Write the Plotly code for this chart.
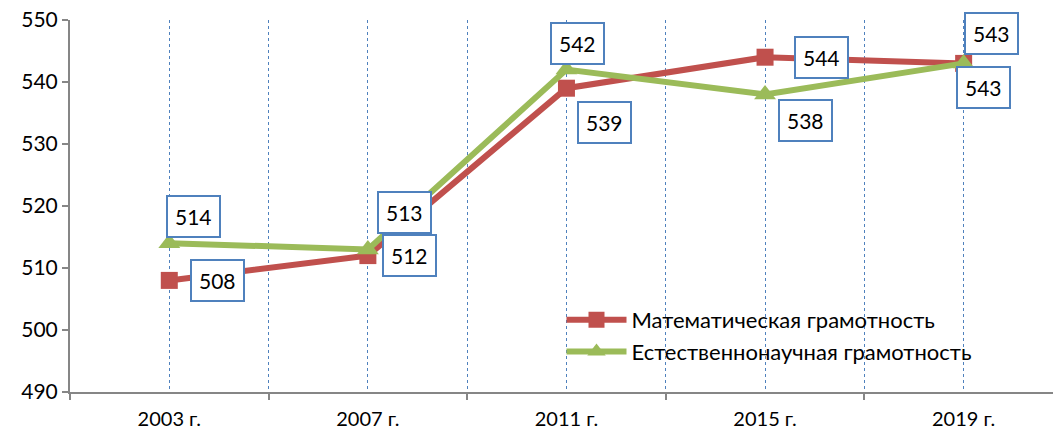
import plotly.graph_objects as go

# Survey years and scores
years = ["2003 г.", "2007 г.", "2011 г.", "2015 г.", "2019 г."]
math_scores = [508, 512, 539, 544, 543]
science_scores = [514, 513, 542, 538, 543]
math_name = "Математическая грамотность"
science_name = "Естественнонаучная грамотность"

# Label offsets (px) for each data label
math_offsets = [(48, 0), (42, 0), (38, -34), (56, 0), (20, -24)]
science_offsets = [(24, 27), (37, 37), (11, 26), (40, -26), (28, 30)]

RED = "#C0504D"
GREEN = "#9BBB59"
BLUE = "#4F81BD"
FONT = "Lato"

xs = list(range(len(years)))

fig = go.Figure()
fig.add_trace(go.Scatter(
    x=xs, y=math_scores, name=math_name, mode="lines+markers",
    line=dict(color=RED, width=6),
    marker=dict(symbol="square", size=17, color=RED),
))
fig.add_trace(go.Scatter(
    x=xs, y=science_scores, name=science_name, mode="lines+markers",
    line=dict(color=GREEN, width=6),
    marker=dict(symbol="triangle-up", size=19, color=GREEN),
))

annotations = []
for vals, offs in ((math_scores, math_offsets), (science_scores, science_offsets)):
    for x, v, (dx, dy) in zip(xs, vals, offs):
        annotations.append(dict(
            x=x, y=v, text=str(v), showarrow=False,
            xshift=dx, yshift=dy,
            font=dict(family=FONT, size=21, color="#000000"),
            bgcolor="#FFFFFF", bordercolor=BLUE, borderwidth=2, borderpad=7,
        ))

fig.update_layout(
    width=1053, height=432,
    margin=dict(l=70, r=0, t=20, b=40),
    paper_bgcolor="#FFFFFF", plot_bgcolor="#FFFFFF",
    font=dict(family=FONT, size=20, color="#000000"),
    annotations=annotations,
    showlegend=True,
    legend=dict(
        x=0.5, y=0.25, xanchor="left", yanchor="top",
        bgcolor="rgba(0,0,0,0)", font=dict(family=FONT, size=22),
        itemwidth=60, tracegroupgap=8,
    ),
    xaxis=dict(
        range=[-0.5, 4.45],
        tickvals=xs, ticktext=years, ticks="",
        ticklabelstandoff=8,
        showgrid=True, gridcolor=BLUE, gridwidth=1.3, griddash="dot",
        showline=True, linecolor="#868686", linewidth=2,
        zeroline=False,
        tickfont=dict(family=FONT, size=20),
        minor=dict(
            tickvals=[i - 0.5 for i in range(len(years) + 1)],
            ticks="outside", ticklen=6, tickcolor="#868686", tickwidth=2,
            showgrid=True, gridcolor=BLUE, gridwidth=1.3, griddash="dot",
        ),
    ),
    yaxis=dict(
        range=[490, 550], dtick=10,
        showgrid=False, zeroline=False,
        showline=True, linecolor="#868686", linewidth=2,
        ticks="outside", ticklen=6, tickcolor="#868686", tickwidth=2,
        tickfont=dict(family=FONT, size=21),
    ),
)

fig.write_html("out.html")
